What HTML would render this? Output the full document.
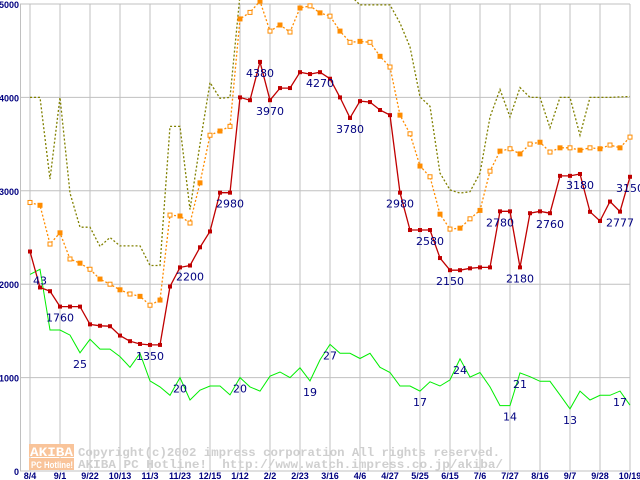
<!DOCTYPE html>
<html><head><meta charset="utf-8"><style>
body{margin:0;background:#fff;}
svg{display:block;}
text{font-family:"Liberation Sans",sans-serif;}
</style></head><body>
<svg id="chart" width="640" height="480" viewBox="0 0 640 480" xmlns="http://www.w3.org/2000/svg">
<rect x="0" y="0" width="640" height="480" fill="#fff"/>
<g id="grid"></g>
<g id="watermark">
 <rect x="29" y="444" width="45" height="13" fill="#f9c49a"/>
 <rect x="29" y="458" width="45" height="12" fill="#f9c49a"/>
 <text x="30" y="456" font-size="13" font-weight="bold" fill="#fff" textLength="43" lengthAdjust="spacingAndGlyphs" style="font-family:'Liberation Mono',monospace">AKIBA</text>
 <text x="31" y="468" font-size="9" font-weight="bold" fill="#fff" textLength="42" lengthAdjust="spacingAndGlyphs">PC Hotline!</text>
 <text x="78" y="456" font-size="12" font-weight="bold" fill="#cfcfcf" textLength="422" lengthAdjust="spacingAndGlyphs" style="font-family:'Liberation Mono',monospace">Copyright(c)2002 impress corporation All rights reserved.</text>
 <text x="78" y="468" font-size="12" font-weight="bold" fill="#cfcfcf" textLength="425" lengthAdjust="spacingAndGlyphs" style="font-family:'Liberation Mono',monospace;white-space:pre" xml:space="preserve">AKIBA PC Hotline!  http://www.watch.impress.co.jp/akiba/</text>
</g>
<g id="series"></g>
<g id="labels"></g>
<g id="axes"></g>
</svg>
<script>
const xTickLabels = ["8/4","9/1","9/22","10/13","11/3","11/23","12/15","1/12","2/2","2/23","3/16","4/6","4/27","5/25","6/15","7/6","7/27","8/16","9/7","9/28","10/19"];
const yTicks = [0,1000,2000,3000,4000,5000];
const redValues = [2350,1965,1925,1760,1760,1760,1570,1555,1550,1450,1390,1360,1350,1350,1975,2180,2200,2395,2565,2980,2980,4000,3970,4380,3970,4100,4100,4270,4250,4270,4200,4000,3780,3960,3950,3865,3810,2980,2580,2580,2580,2280,2150,2150,2170,2180,2180,2780,2780,2180,2760,2780,2760,3160,3160,3180,2775,2677,2885,2777,3150];
const orangeValues = [2875,2845,2430,2550,2270,2225,2160,2055,2000,1940,1895,1870,1775,1830,2740,2730,2655,3085,3595,3640,3690,4840,4910,5030,4710,4775,4700,4957,4980,4905,4870,4710,4590,4600,4590,4440,4325,3810,3610,3265,3150,2750,2590,2600,2700,2790,3210,3425,3450,3395,3500,3520,3415,3460,3460,3435,3460,3450,3490,3460,3575];
const oliveValues = [4000,4000,3125,4000,2975,2610,2610,2405,2500,2410,2410,2410,2200,2200,3690,3690,2800,3500,4160,3990,4000,5150,5100,5050,5150,5200,5200,5150,5150,5100,5200,5150,5100,4990,4990,4990,4990,4795,4540,4005,3905,3190,3010,2975,2990,3190,3790,4085,3790,4105,4000,4000,3675,4000,4000,3595,4000,4000,4000,4005,4010];
const greenValues = [2105,2160,1510,1510,1455,1265,1410,1305,1305,1225,1110,1260,965,900,810,1000,760,865,910,910,815,1000,900,855,1015,1060,1000,1105,965,1190,1355,1260,1260,1205,1260,1110,1055,910,910,855,955,910,975,1200,1005,1055,900,700,700,1050,1010,960,960,815,665,855,760,810,810,855,705];
const redLabelIdx = [3,12,16,20,23,24,29,32,37,40,42,47,49,52,55,59,60];
const redLabelText = ["1760","1350","2200","2980","4380","3970","4270","3780","2980","2580","2150","2780","2180","2760","3180","2777","3150"];
const greenLabelIdx = [1,5,15,21,28,30,39,43,48,49,54,59];
const greenLabelText = ["43","25","20","20","19","27","17","24","14","21","13","17"];

const NS="http://www.w3.org/2000/svg";
const X0=30, DX=10, Y0=471, KY=0.0934;
function xScale(i){return X0+i*DX;}
function yScale(v){return Y0-v*KY;}
function mk(tag,attrs,parent){const e=document.createElementNS(NS,tag);for(const k in attrs)e.setAttribute(k,attrs[k]);parent.appendChild(e);return e;}
const grid=document.getElementById('grid'),axes=document.getElementById('axes'),series=document.getElementById('series'),labels=document.getElementById('labels');

yTicks.forEach(v=>{
  const l=mk('line',{x1:20,x2:630,y1:yScale(v),y2:yScale(v),stroke:'#c0c0c0','stroke-width':1},grid);
  
  
  const t=mk('text',{x:19,y:yScale(v)+4,'text-anchor':'end','font-size':9,'font-weight':'bold',fill:'#000080'},axes);
  t.textContent=String(v);
  
  
});
const vl=mk('line',{x1:20.5,x2:20.5,y1:yScale(5000),y2:yScale(0),stroke:'#c0c0c0','stroke-width':1},grid);


xTickLabels.forEach((s,i)=>{
  const x=xScale(i*3);
  const l=mk('line',{x1:x,x2:x,y1:yScale(5000),y2:yScale(0),stroke:'#c0c0c0','stroke-width':1},grid);
  
  
  const t=mk('text',{x:x,y:479,'text-anchor':'middle','font-size':9,'font-weight':'bold',fill:'#000080'},axes);
  t.textContent=s;
  
  
});

function pts(arr){return arr.map((v,i)=>xScale(i)+','+Math.max(yScale(v),-5).toFixed(1)).join(' ');}
const ol=mk('polyline',{points:pts(oliveValues),fill:'none',stroke:'#808000','stroke-width':1.3,'stroke-dasharray':'2,2'},series);


const gr=mk('polyline',{points:pts(greenValues),fill:'none',stroke:'#00ee00','stroke-width':1},series);


const orl=mk('polyline',{points:pts(orangeValues),fill:'none',stroke:'#ff8c00','stroke-width':1.3,'stroke-dasharray':'2,2'},series);


orangeValues.forEach((v,i)=>{
  const m=mk('rect',{x:xScale(i)-2,y:yScale(v)-2,width:4,height:4,fill:(i%2?'#ff8c00':'#fff'),stroke:'#ff8c00','stroke-width':1},series);
  
  
});
const rl=mk('polyline',{points:pts(redValues),fill:'none',stroke:'#c00000','stroke-width':1.3},series);


redValues.forEach((v,i)=>{
  const m=mk('rect',{x:xScale(i)-2,y:yScale(v)-2,width:4,height:4,fill:'#c00000'},series);
  
  
});
redLabelIdx.forEach((idx,k)=>{
  const t=mk('text',{x:xScale(idx),y:yScale(redValues[idx])+15,'text-anchor':'middle','font-size':11,fill:'#000080',style:'font-family:"DejaVu Sans",sans-serif'},labels);
  t.textContent=redLabelText[k];
  
  
});
greenLabelIdx.forEach((idx,k)=>{
  const t=mk('text',{x:xScale(idx),y:yScale(greenValues[idx])+15,'text-anchor':'middle','font-size':11,fill:'#000080',style:'font-family:"DejaVu Sans",sans-serif'},labels);
  t.textContent=greenLabelText[k];
  
  
});
</script>
</body></html>
